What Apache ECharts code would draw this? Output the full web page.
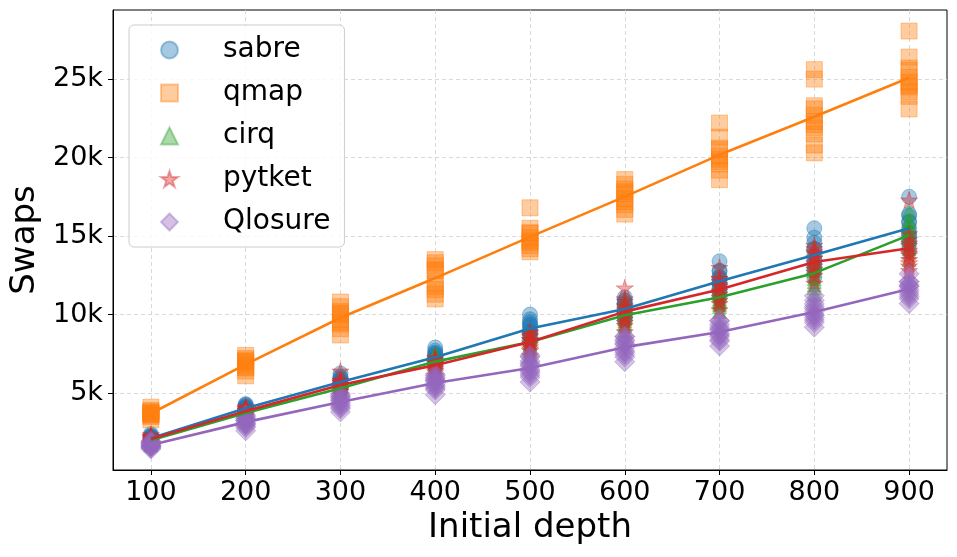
<!DOCTYPE html>
<html>
<head>
<meta charset="utf-8">
<script src="https://cdn.jsdelivr.net/npm/echarts@6/dist/echarts.min.js"></script>
<style>
html,body{margin:0;padding:0;background:#fff;}
#chart{width:957px;height:557px;}
</style>
</head>
<body>
<div id="chart"></div>
<script>
// ---- data ----
const depths = [100, 200, 300, 400, 500, 600, 700, 800, 900];
const xTickValues = [100, 200, 300, 400, 500, 600, 700, 800, 900];
const xTickLabels = ['100', '200', '300', '400', '500', '600', '700', '800', '900'];
const yTickValues = [5000, 10000, 15000, 20000, 25000];
const yTickLabels = ['5k', '10k', '15k', '20k', '25k'];

const sabreRuns = [
  [1800, 1950, 2050, 2100, 2150, 2250, 2300, 2400, 2000, 2250, 2100, 2150],
  [3750, 3850, 3950, 4000, 4050, 4150, 4250, 4300, 3900, 4175, 4000, 4075],
  [5200, 5350, 5500, 5650, 5750, 5900, 6050, 6250, 5450, 5960, 5600, 5810],
  [6700, 6900, 7050, 7200, 7350, 7500, 7700, 7900, 7000, 7575, 7150, 7425],
  [8300, 8500, 8800, 9000, 9200, 9400, 9700, 10000, 8700, 9525, 8900, 9325],
  [9600, 9800, 10000, 10200, 10500, 10700, 10900, 11100, 9900, 10800, 10150, 10550],
  [11100, 11400, 11700, 12000, 12200, 12400, 12800, 13400, 11500, 12750, 11900, 12350],
  [12400, 12800, 13200, 13500, 13800, 14200, 14900, 15500, 13000, 14575, 13400, 14175],
  [14100, 14500, 14900, 15200, 15500, 15900, 16400, 17500, 14700, 16300, 15100, 15900]
];
const qmapRuns = [
  [3300, 3500, 3600, 3700, 3700, 3800, 3900, 4100, 3600, 3800],
  [6100, 6400, 6600, 6800, 7000, 7100, 7200, 7400, 6650, 7000],
  [8700, 9100, 9400, 9700, 10000, 10200, 10500, 10800, 9500, 10100],
  [11000, 11300, 11600, 12000, 12800, 13100, 13300, 13500, 11800, 12850],
  [14000, 14200, 14400, 14600, 14900, 15200, 15500, 16800, 14700, 15200],
  [16400, 16700, 17000, 17400, 17700, 18000, 18300, 18600, 17200, 17825],
  [18600, 19200, 19600, 19900, 20100, 20500, 21300, 22200, 19750, 20600],
  [20300, 20800, 21500, 21900, 22300, 22700, 23300, 25000, 25600, 22100, 23100],
  [23100, 23900, 24200, 24500, 24800, 25100, 25700, 26400, 28060, 24600, 25550]
];
const cirqRuns = [
  [1700, 1800, 1900, 2000, 2050, 2100, 2200, 2250, 1850, 2150, 1950, 2050],
  [3400, 3500, 3600, 3700, 3800, 3850, 3950, 4050, 3550, 3900, 3650, 3820],
  [4800, 4950, 5100, 5250, 5400, 5500, 5650, 5750, 5000, 5600, 5200, 5400],
  [6300, 6550, 6800, 7000, 7150, 7300, 7450, 7500, 6650, 7350, 6900, 7100],
  [7400, 7700, 8000, 8200, 8400, 8600, 8850, 8900, 7850, 8650, 8100, 8420],
  [9000, 9300, 9600, 9900, 10100, 10300, 10600, 10900, 9450, 10450, 9750, 10200],
  [10200, 10500, 10800, 11000, 11200, 11400, 11700, 12000, 10650, 11550, 10900, 11300],
  [11300, 11700, 12100, 12500, 12800, 13100, 13400, 14200, 11900, 13350, 12300, 13000],
  [13500, 14000, 14500, 15000, 15300, 15600, 16000, 16600, 14200, 15900, 14800, 15350]
];
const pytketRuns = [
  [1750, 1850, 1950, 2050, 2150, 2200, 2250, 2350, 1900, 2230, 2000, 2140],
  [3500, 3600, 3750, 3850, 3900, 4000, 4050, 4150, 3650, 4050, 3800, 3900],
  [4900, 5100, 5250, 5400, 5550, 5700, 5800, 6400, 5200, 5820, 5350, 5680],
  [6150, 6350, 6550, 6750, 6900, 7050, 7200, 7300, 6450, 7100, 6650, 6900],
  [7400, 7700, 7950, 8200, 8400, 8600, 8850, 8900, 7800, 8700, 8100, 8400],
  [8900, 9300, 9700, 10000, 10300, 10600, 11000, 11700, 9500, 10850, 9900, 10500],
  [10300, 10700, 11100, 11500, 11800, 12100, 12300, 13000, 10900, 12300, 11300, 11900],
  [12000, 12500, 12900, 13300, 13600, 13900, 14200, 14400, 12700, 14000, 13100, 13600],
  [12800, 13100, 13500, 13800, 14100, 14400, 14800, 17300, 13300, 15150, 13900, 14550]
];
const qlosureRuns = [
  [1430, 1500, 1600, 1650, 1700, 1800, 1900, 1950, 1550, 1830, 1620, 1760],
  [2600, 2800, 3000, 3100, 3250, 3350, 3500, 3600, 2900, 3400, 3050, 3250],
  [3800, 4000, 4200, 4400, 4550, 4700, 4850, 4950, 4100, 4760, 4300, 4560],
  [4900, 5200, 5400, 5600, 5800, 5900, 6100, 6200, 5300, 5975, 5500, 5775],
  [5700, 6000, 6300, 6500, 6700, 6900, 7300, 7400, 6150, 7050, 6400, 6800],
  [7000, 7300, 7600, 7900, 8100, 8300, 8600, 8600, 7450, 8400, 7700, 8150],
  [8000, 8300, 8600, 8800, 9000, 9200, 9600, 9600, 8400, 9375, 8700, 9075],
  [9200, 9500, 9800, 10000, 10200, 10500, 10900, 11200, 9650, 10675, 9950, 10375],
  [10700, 11000, 11300, 11600, 11800, 11900, 12100, 12600, 11150, 12100, 11450, 11800]
];

const methodNames = ['sabre', 'qmap', 'cirq', 'pytket', 'Qlosure'];
const methodRuns = [sabreRuns, qmapRuns, cirqRuns, pytketRuns, qlosureRuns];

// ---- styling ----
const rgb = [[31,119,180],[255,127,14],[44,160,44],[214,39,40],[148,103,189]];
const starPath = 'path://M0,-1 L0.2245,-0.309 L0.951,-0.309 L0.363,0.118 L0.588,0.809 L0,0.382 L-0.588,0.809 L-0.363,0.118 L-0.951,-0.309 L-0.2245,-0.309 Z';
const symbols = ['circle', 'rect', 'triangle', starPath, 'diamond'];
const symbolSizes = [15, 16, 14, 17, 20];
const FONT = 'DejaVu Sans';

function mean(a) { return a.reduce((s, v) => s + v, 0) / a.length; }

const series = [];
methodNames.forEach((name, k) => {
  const c = rgb[k];
  series.push({
    name: name,
    type: 'scatter',
    symbol: symbols[k],
    symbolSize: symbolSizes[k],
    data: depths.flatMap((d, i) => methodRuns[k][i].map(v => [d, v])),
    itemStyle: {
      color: `rgba(${c[0]},${c[1]},${c[2]},0.5)`,
      borderColor: `rgba(${c[0]},${c[1]},${c[2]},0.5)`,
      borderWidth: 1
    },
    z: 2 + k * 0.01,
    silent: true
  });
});
methodNames.forEach((name, k) => {
  const c = rgb[k];
  series.push({
    name: name + ' mean',
    type: 'line',
    data: depths.map((d, i) => [d, mean(methodRuns[k][i])]),
    symbol: 'none',
    lineStyle: { width: 2.6, color: `rgb(${c[0]},${c[1]},${c[2]})` },
    itemStyle: { color: `rgb(${c[0]},${c[1]},${c[2]})` },
    z: 3 + k * 0.01,
    silent: true
  });
});

const chart = echarts.init(document.getElementById('chart'), null, { renderer: 'canvas' });
chart.setOption({
  animation: false,
  backgroundColor: '#fff',
  textStyle: { fontFamily: FONT },
  grid: {
    left: 113, right: 10, top: 10, bottom: 87,
    show: true, borderColor: '#000', borderWidth: 1, backgroundColor: 'transparent'
  },
  legend: {
    data: methodNames,
    orient: 'vertical',
    left: 129, top: 25,
    padding: [11, 14, 11, 31],
    itemWidth: 17, itemHeight: 17,
    itemGap: 15,
    backgroundColor: 'rgba(255,255,255,0.8)',
    borderColor: '#cccccc', borderWidth: 1, borderRadius: 5,
    textStyle: { fontFamily: FONT, fontSize: 28, color: '#000', lineHeight: 28, padding: [0, 0, 0, 40] },
    selectedMode: false
  },
  xAxis: {
    type: 'value',
    min: 60, max: 940,
    name: 'Initial depth',
    nameLocation: 'middle',
    nameGap: 40,
    nameTextStyle: { fontFamily: FONT, fontSize: 34, color: '#000' },
    axisLine: { show: true, lineStyle: { color: '#000', width: 1 } },
    axisTick: { show: true, customValues: xTickValues, length: 5, lineStyle: { color: '#000', width: 1 } },
    axisLabel: {
      customValues: xTickValues,
      formatter: v => xTickLabels[xTickValues.indexOf(v)],
      fontFamily: FONT, fontSize: 27, color: '#000', margin: 9
    },
    splitLine: { show: true, lineStyle: { color: '#cfcfcf', width: 0.8, type: [4, 3] } }
  },
  yAxis: {
    type: 'value',
    min: 100, max: 29400,
    name: 'Swaps',
    nameLocation: 'middle',
    nameGap: 66,
    nameTextStyle: { fontFamily: FONT, fontSize: 34, color: '#000' },
    axisLine: { show: true, lineStyle: { color: '#000', width: 1 } },
    axisTick: { show: true, customValues: yTickValues, length: 5, lineStyle: { color: '#000', width: 1 } },
    axisLabel: {
      customValues: yTickValues,
      formatter: v => yTickLabels[yTickValues.indexOf(v)],
      fontFamily: FONT, fontSize: 27, color: '#000', margin: 10
    },
    splitLine: { show: true, lineStyle: { color: '#cfcfcf', width: 0.8, type: [4, 3] } }
  },
  series: series
});
</script>
</body>
</html>
